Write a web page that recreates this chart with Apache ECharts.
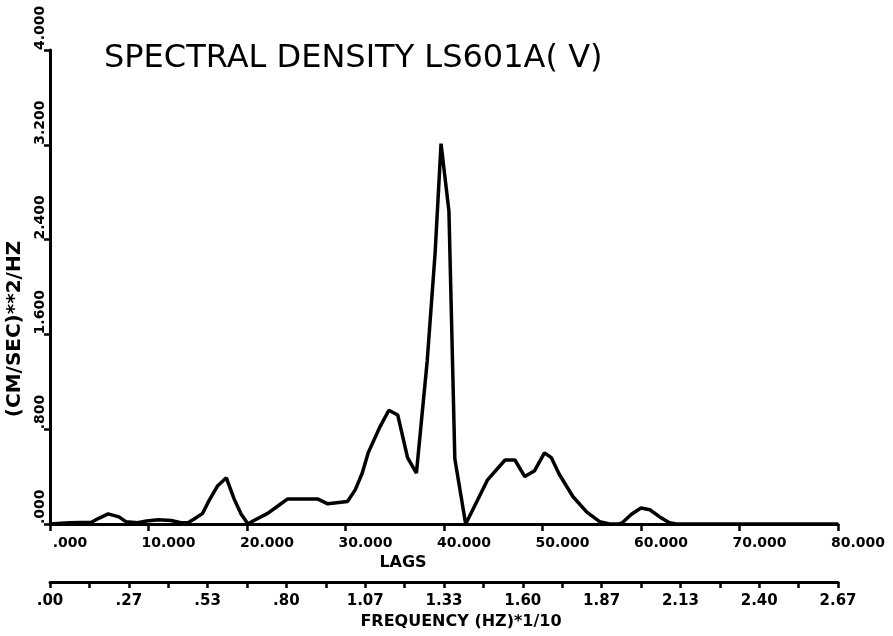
<!DOCTYPE html>
<html>
<head>
<meta charset="utf-8">
<script src="https://cdn.jsdelivr.net/npm/echarts@6/dist/echarts.min.js"></script>
<style>
html,body{margin:0;padding:0;background:#fff;}
#chart{width:893px;height:636px;}
</style>
</head>
<body>
<div id="chart"></div>
<script>
// ---- data ----
const lags = [0, 2, 4.2, 5.0, 5.9, 7.0, 7.7, 8.9, 9.8, 11.0, 12.3, 13.3, 14.0, 14.6, 15.5, 16.1, 17.0, 17.9, 18.7, 19.4, 20.1, 20.7, 22.1, 23.1, 24.1, 25.4, 27.2, 28.2, 30.2, 31.0, 31.7, 32.3, 33.5, 34.4, 35.3, 36.3, 37.2, 38.3, 39.1, 39.7, 40.5, 41.1, 42.2, 43.4, 44.4, 46.2, 47.2, 48.2, 49.2, 50.2, 50.9, 51.7, 53.1, 54.5, 55.8, 56.8, 57.7, 58.1, 59.0, 60.0, 60.9, 61.9, 62.9, 63.6, 80];
const density = [0, 0.01, 0.015, 0.05, 0.085, 0.06, 0.02, 0.01, 0.025, 0.035, 0.03, 0.01, 0.01, 0.04, 0.09, 0.19, 0.32, 0.39, 0.21, 0.085, 0, 0.03, 0.09, 0.15, 0.21, 0.21, 0.21, 0.17, 0.19, 0.29, 0.43, 0.6, 0.82, 0.96, 0.92, 0.56, 0.43, 1.38, 2.29, 3.21, 2.64, 0.55, 0, 0.2, 0.37, 0.54, 0.54, 0.4, 0.45, 0.6, 0.56, 0.42, 0.23, 0.1, 0.02, 0, 0, 0.01, 0.08, 0.135, 0.12, 0.06, 0.01, 0, 0];
const lagLabels = ['.000', '10.000', '20.000', '30.000', '40.000', '50.000', '60.000', '70.000', '80.000'];
const freqLabels = ['.00', '.27', '.53', '.80', '1.07', '1.33', '1.60', '1.87', '2.13', '2.40', '2.67'];
const yLabels = ['.000', '.800', '1.600', '2.400', '3.200', '4.000'];
const titleText = 'SPECTRAL DENSITY LS601A( V)';
const xName = 'LAGS';
const freqName = 'FREQUENCY (HZ)*1/10';
const yName = '(CM/SEC)**2/HZ';

const FONT = 'DejaVu Sans';
const chart = echarts.init(document.getElementById('chart'), null, {renderer: 'canvas'});
const pts = lags.map((l, i) => [l, density[i]]);

chart.setOption({
  backgroundColor: '#fff',
  animation: false,
  title: {
    text: titleText,
    left: 99, top: 38,
    textStyle: {fontFamily: FONT, fontSize: 32, fontWeight: 'normal', color: '#000'}
  },
  grid: {left: 50, right: 55, top: 50, bottom: 112, outerBoundsMode: 'none', containLabel: false},
  xAxis: [{
    type: 'value', min: 0, max: 80, interval: 10,
    axisLine: {show: true, onZero: false, lineStyle: {color: '#000', width: 3}},
    axisTick: {show: true, inside: false, length: 7, lineStyle: {color: '#000', width: 2.5}},
    splitLine: {show: false},
    axisLabel: {
      margin: 12, fontFamily: FONT, fontWeight: 'bold', fontSize: 14, color: '#000',
      align: 'center', padding: [0, 0, 0, 40],
      formatter: v => lagLabels[Math.round(v / 10)]
    },
    name: xName, nameLocation: 'middle', nameGap: 28,
    nameTextStyle: {fontFamily: FONT, fontWeight: 'bold', fontSize: 16, color: '#000', padding: [0, 82, 0, 0]}
  }, {
    type: 'value', min: 0, max: 10, interval: 1, position: 'bottom', offset: 58,
    axisLine: {show: true, onZero: false, lineStyle: {color: '#000', width: 3}},
    axisTick: {show: true, inside: false, length: 6, lineStyle: {color: '#000', width: 2.5}},
    minorTick: {show: true, splitNumber: 2, length: 6, lineStyle: {color: '#000', width: 2.5}},
    splitLine: {show: false},
    axisLabel: {
      margin: 12, fontFamily: FONT, fontWeight: 'bold', fontSize: 15, color: '#000',
      formatter: v => freqLabels[Math.round(v)]
    },
    name: freqName, nameLocation: 'middle', nameGap: 22,
    nameTextStyle: {fontFamily: FONT, fontWeight: 'bold', fontSize: 16, color: '#000', padding: [0, 0, 0, 34]}
  }],
  yAxis: {
    type: 'value', min: 0, max: 4, interval: 0.8,
    axisLine: {show: true, onZero: false, lineStyle: {color: '#000', width: 3}},
    axisTick: {show: true, inside: false, length: 6, lineStyle: {color: '#000', width: 2.5}},
    splitLine: {show: false},
    axisLabel: {
      rotate: 90, margin: 3, align: 'left', verticalAlign: 'bottom',
      fontFamily: FONT, fontWeight: 'bold', fontSize: 14, color: '#000',
      formatter: v => yLabels[Math.round(v / 0.8)]
    },
    name: yName, nameLocation: 'middle', nameRotate: 90, nameGap: 24,
    nameTextStyle: {fontFamily: FONT, fontWeight: 'bold', fontSize: 20, color: '#000', padding: [0, 84, 0, 0]}
  },
  series: [{
    type: 'line', xAxisIndex: 0, data: pts, showSymbol: false, smooth: false,
    lineStyle: {color: '#000', width: 3.5}, z: 3
  }]
});
</script>
</body>
</html>
